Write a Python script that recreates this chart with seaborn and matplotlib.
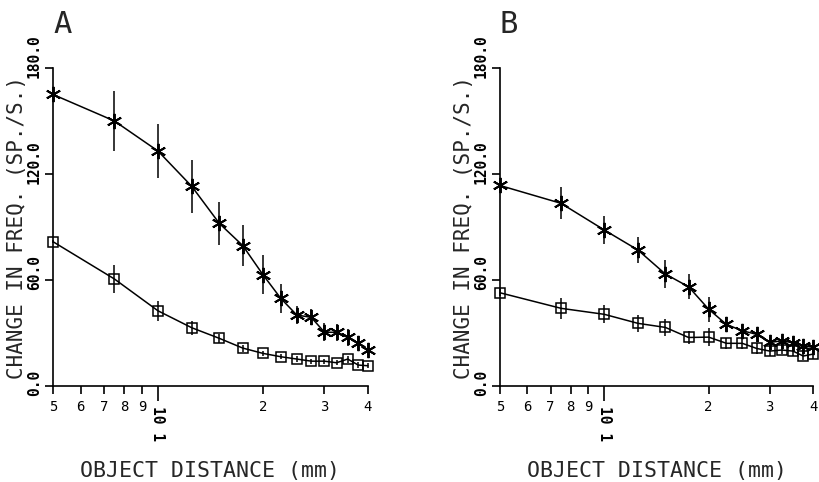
import pandas as pd
import matplotlib
matplotlib.use('Agg')
import matplotlib.pyplot as plt
import matplotlib.transforms as mtransforms
from matplotlib.ticker import NullLocator
import seaborn as sns

# object distance (mm), same for both panels
distance = [5, 7.5, 10, 12.5, 15, 17.5, 20, 22.5, 25, 27.5, 30, 32.5, 35, 37.5, 40]

# panel A
a_star = [165, 150, 133, 113, 92, 79.5, 63, 49.6, 40.2, 38.9, 30.5, 30.4, 27.5, 24.2, 20.5]
a_star_err = [2, 17, 15.5, 15, 12, 11.5, 11, 8, 5, 4.5, 5, 5, 5, 4, 3]
a_square = [81.7, 60.6, 42.6, 33, 27, 21.5, 18.5, 16.6, 15.3, 14.1, 14.1, 13.2, 15.3, 11.9, 11.5]
a_square_err = [1, 8, 5.5, 4, 2.5, 2, 1.5, 1.5, 1.5, 1.5, 1.5, 1.5, 2, 1.5, 1.5]

# panel B
b_star = [113.5, 103.4, 88.3, 77, 63.4, 56.2, 43.5, 34.9, 31.3, 29.3, 24.7, 25.6, 24.5, 22.8, 21.9]
b_star_err = [2, 9, 8, 7.5, 8, 7, 7, 4, 3.3, 3, 3, 3, 3, 3, 3]
b_square = [52.8, 44, 40.6, 35.5, 33.2, 27.5, 27.7, 24.2, 24.2, 21.3, 19.8, 20.4, 19.8, 17, 18.1]
b_square_err = [2, 6, 5, 5, 5, 3.5, 5, 3, 3, 3.3, 2.5, 2.5, 2.5, 2.5, 2.5]

x_ticks = [5, 6, 7, 8, 9, 10, 20, 30, 40]
x_ticklabels = ['5', '6', '7', '8', '9', '10 1', '2', '3', '4']
y_ticks = [0, 60, 120, 180]
y_ticklabels = ['0.0', '60.0', '120.0', '180.0']

sns.set_style('ticks')
plt.rcParams['font.family'] = ['DejaVu Sans Mono']

fig = plt.figure(figsize=(8.19, 4.82), dpi=100)
ax_a = fig.add_axes([0.0647, 0.199, 0.3846, 0.660])
ax_b = fig.add_axes([0.6105, 0.199, 0.3822, 0.660])


def panel(ax, star, star_err, square, square_err, letter):
    df = pd.DataFrame({'distance': distance, 'star': star, 'square': square})

    # error bars first so the markers sit on top
    ax.errorbar(distance, star, yerr=star_err, fmt='none', ecolor='k',
                elinewidth=1.1, capsize=0, clip_on=False)
    ax.errorbar(distance, square, yerr=square_err, fmt='none', ecolor='k',
                elinewidth=1.1, capsize=0, clip_on=False)

    sns.lineplot(data=df, x='distance', y='star', ax=ax, color='k', lw=1.1,
                 marker=(6, 2, 0), markersize=11, markeredgecolor='k',
                 markeredgewidth=1.4, clip_on=False)
    sns.lineplot(data=df, x='distance', y='square', ax=ax, color='k', lw=1.1,
                 marker='s', markersize=7.5, markerfacecolor='none',
                 markeredgecolor='k', markeredgewidth=1.1, clip_on=False)

    ax.set_xscale('log')
    ax.set_xlim(5, 40)
    ax.set_ylim(0, 180)
    ax.xaxis.set_minor_locator(NullLocator())
    ax.set_xticks(x_ticks)
    ax.set_xticklabels(x_ticklabels, fontsize=10)
    ax.set_yticks(y_ticks)
    ax.set_yticklabels(y_ticklabels, fontsize=10.5, fontweight='bold')

    sns.despine(ax=ax)
    for side in ['left', 'bottom']:
        ax.spines[side].set_linewidth(1.2)
        ax.spines[side].set_color('k')
    ax.tick_params(axis='both', direction='out', length=6, width=1.2,
                   color='k', labelcolor='k')
    ax.tick_params(axis='x', pad=4)
    ax.tick_params(axis='y', pad=2)

    # y tick labels: rotated, numbers sitting just above the tick
    down = mtransforms.ScaledTranslation(0, -0.10, fig.dpi_scale_trans)
    for lab in ax.get_yticklabels():
        lab.set_rotation(90)
        lab.set_va('bottom')
        lab.set_transform(lab.get_transform() + down)

    # the decade tick is longer and its label is turned
    ten = x_ticks.index(10)
    ax.xaxis.get_major_ticks()[ten].tick1line.set_markersize(11)
    lab10 = ax.get_xticklabels()[ten]
    lab10.set_rotation(-90)
    lab10.set_fontweight('bold')
    lab10.set_fontsize(10.5)
    lab10.set_transform(lab10.get_transform() +
                        mtransforms.ScaledTranslation(0, -0.06, fig.dpi_scale_trans))

    ax.set_xlabel('OBJECT DISTANCE (mm)', fontsize=15.5)
    ax.set_ylabel('CHANGE IN FREQ. (SP./S.)', fontsize=15)
    ax.xaxis.set_label_coords(0.5, -0.235)
    ax.yaxis.set_label_coords(-0.084, 0.5)

    pos = ax.get_position()
    fig.text(pos.x0, 1 - 33 / 482, letter, fontsize=22, va='baseline', ha='left')


panel(ax_a, a_star, a_star_err, a_square, a_square_err, 'A')
panel(ax_b, b_star, b_star_err, b_square, b_square_err, 'B')

fig.savefig('out.png', dpi=100)
